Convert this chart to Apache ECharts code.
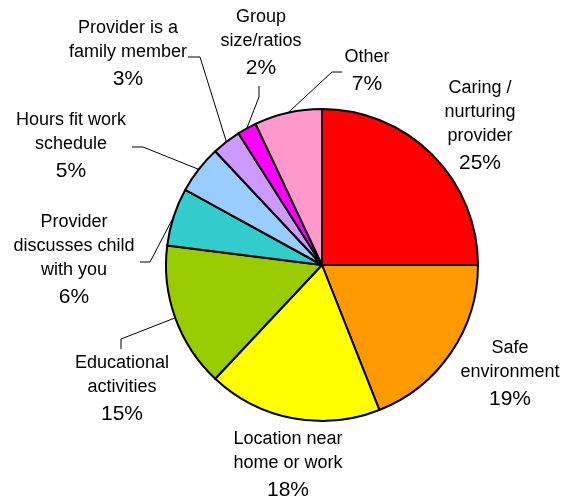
<!DOCTYPE html>
<html>
<head>
<meta charset="utf-8">
<script src="https://cdn.jsdelivr.net/npm/echarts@6/dist/echarts.min.js"></script>
<style>
html,body{margin:0;padding:0;background:#fff;}
#main{width:563px;height:500px;}
</style>
</head>
<body>
<div id="main"></div>
<script>
// ---- data ----
var categories = [
  'Caring /\nnurturing\nprovider',
  'Safe\nenvironment',
  'Location near\nhome or work',
  'Educational\nactivities',
  'Provider\ndiscusses child\nwith you',
  'Hours fit work\nschedule',
  'Provider is a\nfamily member',
  'Group\nsize/ratios',
  'Other'
];
var percents = [25, 19, 18, 15, 6, 5, 3, 2, 7];
var sliceColors = ['#FF0000', '#FF9900', '#FFFF00', '#99CC00', '#33CCCC', '#99CCFF', '#CC99FF', '#FF00FF', '#FF99CC'];

// ---- layout (label placement, not data) ----
var CX = 322, CY = 265, R = 156;
var labelPos = [
  [480, 76], [510, 336], [288, 427], [122, 351], [74, 210],
  [71, 108], [128, 16], [261, 5], [367, 45]
];
// leader line elbow/end points; null = no leader line
var leader = [
  null, null, null,
  [[121, 339], [121, 349]],
  [[150, 262], [140, 262]],
  [[143, 147], [132, 147]],
  [[200, 57], [188, 57]],
  [[259, 97], [259, 86]],
  [[332, 72], [342, 72]]
];

var total = percents.reduce(function (a, b) { return a + b; }, 0);
var mids = [];
var cum = 0;
percents.forEach(function (v) {
  mids.push((cum + v / 2) / total * Math.PI * 2);
  cum += v;
});

var data = categories.map(function (c, i) {
  return {
    name: c,
    value: percents[i],
    itemStyle: { color: sliceColors[i] },
    labelLine: { show: !!leader[i] }
  };
});

var FONT = 'Liberation Sans, Arial, sans-serif';
var chart = echarts.init(document.getElementById('main'), null, { renderer: 'canvas' });
chart.setOption({
  animation: false,
  backgroundColor: '#fff',
  series: [{
    type: 'pie',
    center: [CX, CY],
    radius: R,
    startAngle: 90,
    clockwise: true,
    avoidLabelOverlap: false,
    silent: true,
    data: data,
    itemStyle: { borderColor: '#000', borderWidth: 2 },
    label: {
      show: true,
      position: 'outside',
      color: '#000',
      fontFamily: FONT,
      formatter: function (p) {
        var lines = p.name.split('\n').map(function (l) { return '{n|' + l + '}'; });
        return lines.join('\n') + '\n{p|' + p.value + '%}';
      },
      rich: {
        n: { fontSize: 18, lineHeight: 24, color: '#000', fontFamily: FONT, align: 'center' },
        p: { fontSize: 21, lineHeight: 30, color: '#000', fontFamily: FONT, align: 'center' }
      }
    },
    labelLine: { show: true, lineStyle: { color: '#000', width: 1 }, length: 10, length2: 10 },
    labelLayout: function (params) {
      var i = params.dataIndex;
      var res = {
        x: labelPos[i][0],
        y: labelPos[i][1],
        align: 'center',
        verticalAlign: 'top'
      };
      if (leader[i]) {
        var a = mids[i];
        var start = [CX + R * Math.sin(a), CY - R * Math.cos(a)];
        res.labelLinePoints = [start, leader[i][0], leader[i][1]];
      }
      return res;
    }
  }]
});
</script>
</body>
</html>
